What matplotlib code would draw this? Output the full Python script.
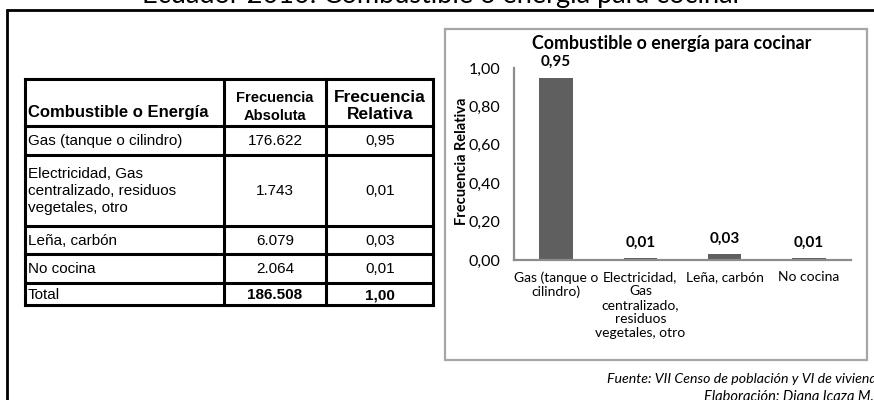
import matplotlib.pyplot as plt
from matplotlib.patches import Rectangle

# datos del cuadro y del grafico
categorias_tabla = ["Gas (tanque o cilindro)",
                    "Electricidad, Gas\ncentralizado, residuos\nvegetales, otro",
                    "Leña, carbón", "No cocina"]
categorias_graf = ["Gas (tanque o\ncilindro)",
                   "Electricidad,\nGas\ncentralizado,\nresiduos\nvegetales, otro",
                   "Leña, carbón", "No cocina"]
frec_absoluta = [176622, 1743, 6079, 2064]
frec_relativa = [0.95, 0.01, 0.03, 0.01]
total_absoluta = 186508
total_relativa = 1.00
y_ticks = [0.0, 0.2, 0.4, 0.6, 0.8, 1.0]


def coma(v):
    return f"{v:.2f}".replace(".", ",")


def miles(v):
    return f"{v:,}".replace(",", ".")


W, H = 874, 400
fig = plt.figure(figsize=(W / 100, H / 100), dpi=100)
fig.patch.set_facecolor("white")

# capa de fondo en pixeles
bg = fig.add_axes([0, 0, 1, 1])
bg.set_xlim(0, W)
bg.set_ylim(H, 0)
bg.axis("off")

cal = ["Lato", "DejaVu Sans"]
ari = ["Liberation Sans", "DejaVu Sans"]

# titulo recortado arriba
bg.text(442, 2.5, "Ecuador 2010: Combustible o energía para cocinar",
        ha="center", va="baseline", fontsize=19.5, family=cal, color="black")

# marco exterior
bg.plot([7, 7, W + 5], [H + 5, 10, 10], color="black", lw=2, solid_joinstyle="miter")

# cuadro
cols = [25, 224, 326, 433]
filas = [79, 126, 155, 226, 254, 283, 305]
for x in cols:
    bg.plot([x, x], [filas[0], filas[-1]], color="black", lw=2.2)
for y in filas:
    bg.plot([cols[0], cols[-1]], [y, y], color="black", lw=2.2)

bg.text(28, 113, "Combustible o Energía", ha="left", va="center",
        fontsize=12, fontweight="bold", family=ari)
bg.text(275, 107, "Frecuencia\nAbsoluta", ha="center", va="center",
        fontsize=10.5, fontweight="bold", family=ari, linespacing=1.3)
bg.text(380, 106, "Frecuencia\nRelativa", ha="center", va="center",
        fontsize=12.5, fontweight="bold", family=ari, linespacing=1.15)

centros = [141, 191, 241, 269]
for cat, fa, fr, yc in zip(categorias_tabla, frec_absoluta, frec_relativa, centros):
    bg.text(28, yc, cat, ha="left", va="center", fontsize=11, family=ari, linespacing=1.3)
    bg.text(275, yc, miles(fa), ha="center", va="center", fontsize=11, family=ari)
    bg.text(380, yc, coma(fr), ha="center", va="center", fontsize=11, family=ari)
bg.text(28, 295, "Total", ha="left", va="center", fontsize=11, family=ari)
bg.text(275, 295, miles(total_absoluta), ha="center", va="center",
        fontsize=11, fontweight="bold", family=ari)
bg.text(380, 295, coma(total_relativa), ha="center", va="center",
        fontsize=11, fontweight="bold", family=ari)

# recuadro del grafico
bg.add_patch(Rectangle((445, 29), 422, 331, fill=False, edgecolor="#a6a6a6", lw=1.6))

# grafico de barras
ax = fig.add_axes([514 / W, 1 - 260 / H, 337 / W, 192 / H])
ax.set_facecolor("none")
x = range(len(frec_relativa))
barras = ax.bar(x, frec_relativa, width=0.4, color="#5f5f5f")
ax.bar_label(barras, labels=[coma(v) for v in frec_relativa], padding=6,
             fontsize=11, fontweight="bold", family=cal)
ax.set_xlim(-0.5, len(frec_relativa) - 0.5)
ax.set_ylim(0, 1)
ax.set_yticks(y_ticks)
ax.set_yticklabels([coma(v) for v in y_ticks], family=cal, fontsize=11.5)
ax.set_xticks(list(x))
ax.set_xticklabels(categorias_graf, family=cal, fontsize=10, linespacing=1.2)
ax.tick_params(axis="both", length=0)
ax.tick_params(axis="y", pad=10)
ax.tick_params(axis="x", pad=8)
for s in ["top", "right"]:
    ax.spines[s].set_visible(False)
for s in ["left", "bottom"]:
    ax.spines[s].set_color("#8c8c8c")
    ax.spines[s].set_linewidth(1.6)

bg.text(462, 161, "Frecuencia Relativa", rotation=90, ha="center", va="center",
        fontsize=10.5, fontweight="bold", family=cal)
bg.text(672, 44, "Combustible o energía para cocinar", ha="center", va="center",
        fontsize=12.8, fontweight="bold", family=cal)

# fuente
bg.text(607, 383, "Fuente: VII Censo de población y VI de vivienda", ha="left",
        va="baseline", fontsize=10.2, style="italic", family=cal)
bg.text(704, 401, "Elaboración: Diana Icaza M.", ha="left",
        va="baseline", fontsize=10.5, style="italic", family=cal)

fig.savefig("out.png", dpi=100)
